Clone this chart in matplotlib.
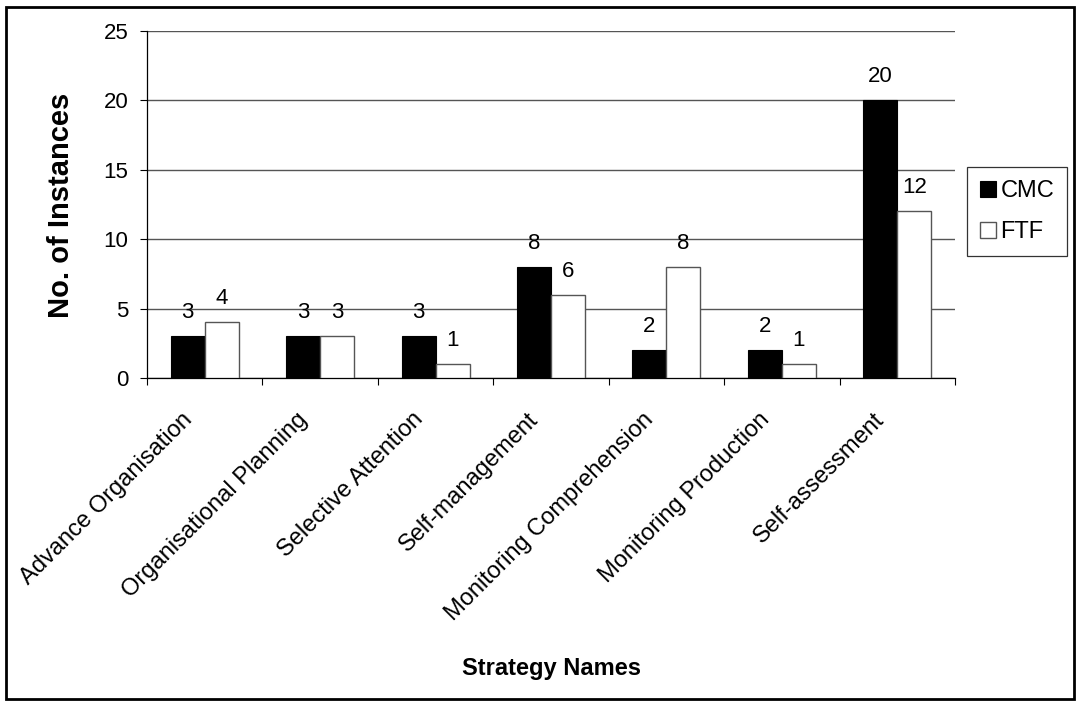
import matplotlib
matplotlib.use("Agg")
import matplotlib.pyplot as plt
import matplotlib.transforms as mtransforms
import numpy as np
from matplotlib.patches import Rectangle

categories = ["Advance Organisation", "Organisational Planning", "Selective Attention",
              "Self-management", "Monitoring Comprehension", "Monitoring Production",
              "Self-assessment"]
cmc = [3, 3, 3, 8, 2, 2, 20]
ftf = [4, 3, 1, 6, 8, 1, 12]
yticks = [0, 5, 10, 15, 20, 25]

plt.rcParams['font.family'] = ['Liberation Sans', 'DejaVu Sans']

fig = plt.figure(figsize=(10.8, 7.04), dpi=100)
ax = fig.add_axes([147/1080, 1-378/704, (955-147)/1080, (378-31)/704])

x = np.arange(len(categories))
w = 0.295
ax.bar(x - w/2, cmc, w, color='black', edgecolor='black', linewidth=0.8, label='CMC', zorder=3)
ax.bar(x + w/2, ftf, w, color='white', edgecolor='#555555', linewidth=1.0, label='FTF', zorder=3)

for xs, vals in ((x - w/2, cmc), (x + w/2, ftf)):
    for xi, v in zip(xs, vals):
        ax.annotate(str(v), (xi, v), xytext=(0, 13), textcoords='offset points',
                    ha='center', va='baseline', fontsize=16)

ax.set_xlim(-0.5, len(categories) - 0.5)
ax.set_ylim(0, 25)
ax.set_yticks(yticks)
ax.set_yticklabels([str(t) for t in yticks], fontsize=16)
ax.yaxis.grid(True, color='#555555', linewidth=1.0, zorder=0)
ax.set_axisbelow(True)

ax.set_xticks(x)
ax.set_xticklabels(categories, rotation=45, ha='right', va='center',
                   rotation_mode='anchor', fontsize=17)
ax.tick_params(axis='x', which='major', length=0, pad=27.5)
offset = mtransforms.ScaledTranslation(-16/100, 0, fig.dpi_scale_trans)
for lab in ax.get_xticklabels():
    lab.set_transform(lab.get_transform() + offset)
ax.set_xticks(np.arange(len(categories) + 1) - 0.5, minor=True)
ax.tick_params(axis='x', which='minor', length=5, direction='out', width=0.8)
ax.tick_params(axis='y', length=5, direction='out', width=0.8, pad=8.5)

for s in ['top', 'right']:
    ax.spines[s].set_visible(False)
for s in ['left', 'bottom']:
    ax.spines[s].set_linewidth(0.9)

fig.text(61/1080, 1-205/704, "No. of Instances", fontsize=21, fontweight='bold',
         rotation=90, ha='center', va='center')
fig.text(551/1080, 1-669/704, "Strategy Names", fontsize=17, fontweight='bold',
         ha='center', va='center')

leg = ax.legend(loc='upper left', bbox_to_anchor=(967/1080, 1-167/704), bbox_transform=fig.transFigure,
                fontsize=17, frameon=True, fancybox=False, edgecolor='black',
                handlelength=0.67, handleheight=0.67, handletextpad=0.2, borderpad=0.55,
                labelspacing=0.8, borderaxespad=0)
leg.get_frame().set_linewidth(0.9)

fig.patches.append(Rectangle((6/1080, 5/704), 1068/1080, 692/704, transform=fig.transFigure,
                             fill=False, edgecolor='black', linewidth=2))

fig.savefig("out.png", dpi=100)
